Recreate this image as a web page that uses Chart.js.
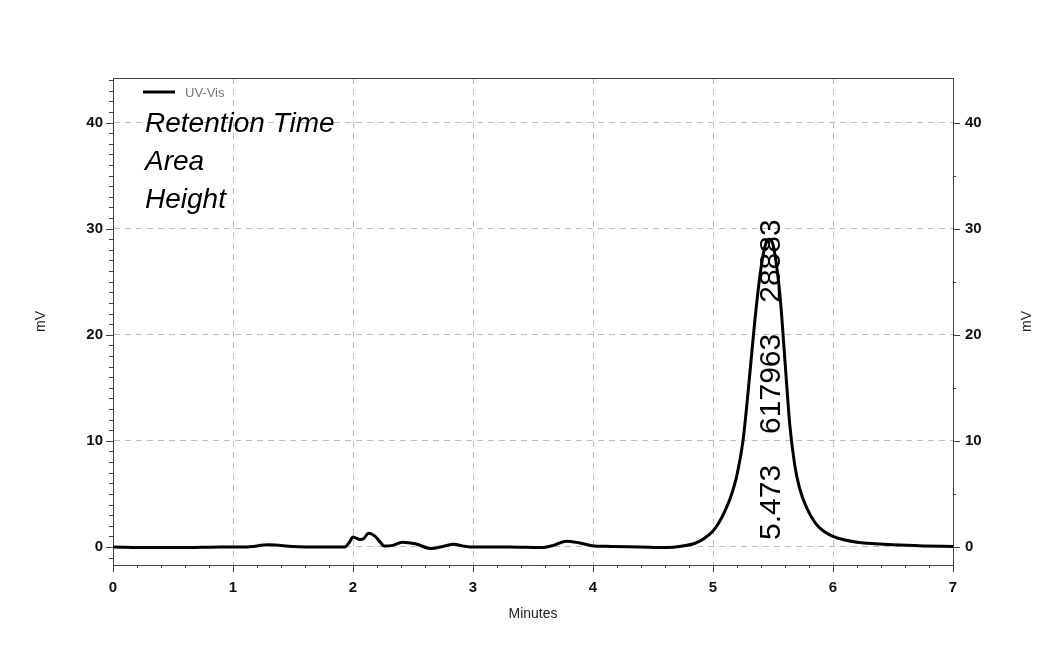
<!DOCTYPE html>
<html>
<head>
<meta charset="utf-8">
<title>UV-Vis chromatogram</title>
<script src="https://cdn.jsdelivr.net/npm/chart.js@4.4.1/dist/chart.umd.min.js"></script>
<style>
  body { margin: 0; background: #fff; }
  canvas { display: block; }
</style>
</head>
<body>
<canvas id="chrom" width="1051" height="645"></canvas>
<script>
// retention time (min) and detector signal (mV)
var times = [0, 0.3, 0.6, 0.9, 1.1, 1.3, 1.5, 1.7, 1.93, 1.97, 2.0, 2.06, 2.09, 2.13, 2.18, 2.22, 2.26, 2.33,
  2.41, 2.52, 2.65, 2.75, 2.84, 2.92, 2.98, 3.3, 3.57, 3.67, 3.78, 3.88, 3.99, 4.15, 4.4, 4.6, 4.75,
  4.85, 4.92, 5.0, 5.05, 5.1, 5.15, 5.2, 5.25, 5.3, 5.35, 5.4, 5.44, 5.47, 5.5, 5.53, 5.56, 5.6,
  5.64, 5.68, 5.72, 5.78, 5.85, 5.92, 6.0, 6.1, 6.2, 6.35, 6.5, 6.75, 7.0];
var signal = [0, -0.05, -0.05, 0, 0, 0.2, 0.05, 0, 0, 0.45, 0.95, 0.7, 0.8, 1.3, 1.05, 0.55, 0.1, 0.15,
  0.45, 0.3, -0.15, 0.05, 0.25, 0.08, 0, 0, -0.05, 0.15, 0.55, 0.4, 0.12, 0.05, 0, -0.05, 0.1,
  0.35, 0.75, 1.5, 2.3, 3.4, 4.8, 6.8, 10.0, 15.5, 21.5, 26.3, 28.6, 29.0, 28.5, 26.5, 23.5, 17.5,
  11.5, 7.8, 5.6, 3.7, 2.3, 1.5, 1.0, 0.65, 0.45, 0.3, 0.2, 0.1, 0.05];

var xTicks = [0, 1, 2, 3, 4, 5, 6, 7];
var yTicks = [0, 10, 20, 30, 40];
var seriesName = 'UV-Vis';
var reportLabels = ['Retention Time', 'Area', 'Height'];
var peakTime = 5.473;
var peakLabels = ['5.473', '617963', '28883'];

var points = times.map(function (t, i) { return { x: t, y: signal[i] }; });

var fontFamily = '"Liberation Sans", Arial, sans-serif';
var axisColor = '#444';

// frame top, minor/major tick marks, legend, report text, peak annotation
var extras = {
  id: 'extras',
  afterDraw: function (chart) {
    var ctx = chart.ctx, a = chart.chartArea, sx = chart.scales.x, sy = chart.scales.y;
    ctx.save();
    ctx.strokeStyle = axisColor;
    ctx.lineWidth = 1;
    ctx.beginPath();
    ctx.moveTo(a.left, a.top + 0.5);
    ctx.lineTo(a.right, a.top + 0.5);
    // y ticks, both sides
    for (var v = -1; v <= 44; v++) {
      var py = Math.round(sy.getPixelForValue(v)) + 0.5;
      var len = v % 10 === 0 ? 7 : 4;
      ctx.moveTo(a.left - len, py); ctx.lineTo(a.left, py);
      if (v % 5 === 0) {
        ctx.moveTo(a.right, py); ctx.lineTo(a.right + (v % 10 === 0 ? 7 : 3), py);
      }
    }
    // x ticks
    for (var k = 0; k <= 35; k++) {
      var px = Math.round(sx.getPixelForValue(k * 0.2)) + 0.5;
      var l = k % 5 === 0 ? 7 : 3;
      ctx.moveTo(px, a.bottom); ctx.lineTo(px, a.bottom + l);
    }
    ctx.stroke();

    // legend entry
    ctx.strokeStyle = '#000';
    ctx.lineWidth = 3;
    ctx.beginPath();
    ctx.moveTo(a.left + 30, a.top + 14);
    ctx.lineTo(a.left + 62, a.top + 14);
    ctx.stroke();
    ctx.fillStyle = '#777';
    ctx.font = '13px ' + fontFamily;
    ctx.textBaseline = 'middle';
    ctx.fillText(seriesName, a.left + 72, a.top + 15);

    // report field names
    ctx.fillStyle = '#000';
    ctx.font = 'italic 28px ' + fontFamily;
    ctx.textBaseline = 'alphabetic';
    reportLabels.forEach(function (t, i) {
      ctx.fillText(t, a.left + 32, a.top + 54 + i * 38);
    });

    // right axis title
    ctx.save();
    ctx.font = '14px ' + fontFamily;
    ctx.fillStyle = '#222';
    ctx.textAlign = 'center';
    ctx.textBaseline = 'middle';
    ctx.translate(1027, (a.top + a.bottom) / 2);
    ctx.rotate(-Math.PI / 2);
    ctx.fillText('mV', 0, 0);
    ctx.restore();

    // peak annotation, vertical
    ctx.save();
    ctx.translate(sx.getPixelForValue(peakTime) + 10, sy.getPixelForValue(0) - 7);
    ctx.rotate(-Math.PI / 2);
    ctx.font = '30px ' + fontFamily;
    ctx.fillStyle = '#000';
    var off = 0;
    peakLabels.forEach(function (t) {
      ctx.fillText(t, off, 0);
      off += ctx.measureText(t).width + 31;
    });
    ctx.restore();
    ctx.restore();
  }
};

var tickFont = { family: fontFamily, size: 15, weight: 'bold' };
var gridStyle = { color: '#bdbdbd', lineWidth: 1, drawTicks: false };
var dashedBorder = { display: true, color: axisColor, width: 1, dash: [6, 5] };

new Chart(document.getElementById('chrom').getContext('2d'), {
  type: 'line',
  data: {
    datasets: [{
      label: seriesName,
      data: points,
      borderColor: '#000',
      borderWidth: 3,
      pointRadius: 0,
      fill: false,
      cubicInterpolationMode: 'monotone'
    }]
  },
  options: {
    responsive: false,
    animation: false,
    layout: { padding: { top: 78, left: 0, right: 0, bottom: 0 } },
    plugins: { legend: { display: false }, tooltip: { enabled: false } },
    scales: {
      x: {
        type: 'linear',
        min: 0,
        max: 7,
        afterBuildTicks: function (s) { s.ticks = xTicks.map(function (v) { return { value: v }; }); },
        afterFit: function (s) { s.height = 80; },
        grid: gridStyle,
        border: dashedBorder,
        ticks: { font: tickFont, color: '#111', padding: 14, maxRotation: 0 },
        title: { display: true, text: 'Minutes', color: '#222',
          font: { family: fontFamily, size: 14 }, padding: { top: 0, bottom: 22 } }
      },
      y: {
        position: 'left',
        min: -1.7,
        max: 44.2,
        afterBuildTicks: function (s) { s.ticks = yTicks.map(function (v) { return { value: v }; }); },
        afterFit: function (s) { s.width = 113; },
        grid: gridStyle,
        border: dashedBorder,
        ticks: { font: tickFont, color: '#111', padding: 10 },
        title: { display: true, text: 'mV', color: '#222',
          font: { family: fontFamily, size: 14 }, padding: { top: 33, bottom: 0 } }
      },
      y2: {
        position: 'right',
        min: -1.7,
        max: 44.2,
        afterBuildTicks: function (s) { s.ticks = yTicks.map(function (v) { return { value: v }; }); },
        afterFit: function (s) { s.width = 98; },
        grid: { drawOnChartArea: false, drawTicks: false },
        border: { display: true, color: axisColor, width: 1 },
        ticks: { font: tickFont, color: '#111', padding: 12 }
      }
    }
  },
  plugins: [extras]
});
</script>
</body>
</html>
